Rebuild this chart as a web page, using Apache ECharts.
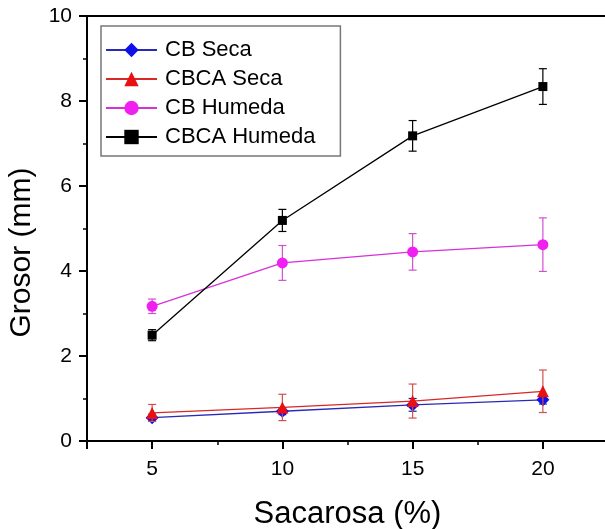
<!DOCTYPE html>
<html lang="es">
<head>
<meta charset="UTF-8">
<title>Grosor vs Sacarosa</title>
<script src="https://cdn.jsdelivr.net/npm/echarts@6/dist/echarts.min.js"></script>
<style>
    html, body { margin: 0; padding: 0; background: #fff; }
    #chart { width: 605px; height: 529px; }
</style>
</head>
<body>
<div id="chart"></div>
<script>
    // datos
    const sacarosa = [5, 10, 15, 20];
    const nombres = ['CB Seca', 'CBCA Seca', 'CB Humeda', 'CBCA Humeda'];

    const cbSeca = [0.55, 0.70, 0.85, 0.97];
    const cbSecaErr = [0.08, 0.08, 0.15, 0.10];
    const cbcaSeca = [0.66, 0.79, 0.94, 1.17];
    const cbcaSecaErr = [0.20, 0.31, 0.40, 0.50];
    const cbHumeda = [3.17, 4.19, 4.45, 4.62];
    const cbHumedaErr = [0.17, 0.41, 0.43, 0.63];
    const cbcaHumeda = [2.49, 5.19, 7.18, 8.34];
    const cbcaHumedaErr = [0.13, 0.26, 0.36, 0.42];

    const valores = [cbSeca, cbcaSeca, cbHumeda, cbcaHumeda];
    const errores = [cbSecaErr, cbcaSecaErr, cbHumedaErr, cbcaHumedaErr];
    const colores = ['#1010e8', '#e81010', '#f020f0', '#000000'];
    const coloresLinea = ['#2a2ab8', '#d82828', '#d830d8', '#000000'];
    const coloresError = ['#222288', '#d05050', '#d050d0', '#000000'];
    const simbolos = ['diamond', 'triangle', 'circle', 'rect'];
    const tamanos = [13, 12, 11, 9];

    let grafico = echarts.init(document.getElementById('chart'));
    let series = [];

    function barraError(color) {
        return function (params, api) {
            let x = api.value(0);
            let bajo = api.coord([x, api.value(1)]);
            let alto = api.coord([x, api.value(2)]);
            let m = 4;
            let estilo = {stroke: color, lineWidth: 1.2};
            return {
                type: 'group',
                children: [
                    {type: 'line', shape: {x1: bajo[0], y1: bajo[1], x2: alto[0], y2: alto[1]}, style: estilo},
                    {type: 'line', shape: {x1: alto[0] - m, y1: alto[1], x2: alto[0] + m, y2: alto[1]}, style: estilo},
                    {type: 'line', shape: {x1: bajo[0] - m, y1: bajo[1], x2: bajo[0] + m, y2: bajo[1]}, style: estilo}
                ]
            };
        };
    }

    nombres.forEach((nombre, i) => {
        series.push({
            name: nombre + ' error',
            type: 'custom',
            renderItem: barraError(coloresError[i]),
            data: sacarosa.map((x, j) => [x, valores[i][j] - errores[i][j], valores[i][j] + errores[i][j]]),
            z: 1 + i * 2,
            silent: true
        });
        series.push({
            name: nombre,
            type: 'line',
            data: sacarosa.map((x, j) => [x, valores[i][j]]),
            symbol: simbolos[i],
            symbolSize: tamanos[i],
            itemStyle: {color: colores[i]},
            lineStyle: {color: coloresLinea[i], width: 1.3},
            z: 2 + i * 2
        });
    });

    let opcion = {
        animation: false,
        grid: {
            left: 87,
            right: -3,
            top: 16,
            bottom: 88,
            outerBoundsMode: 'none',
            containLabel: false,
            show: true,
            borderColor: '#000',
            borderWidth: 2
        },
        legend: {
            data: nombres,
            orient: 'vertical',
            left: 101,
            top: 26,
            itemWidth: 51,
            itemHeight: 18,
            itemGap: 7,
            padding: [13, 25, 8, 4],
            backgroundColor: '#fff',
            borderColor: '#777',
            borderWidth: 1.5,
            borderRadius: 0,
            textStyle: {
                fontFamily: 'Liberation Sans',
                fontSize: 22,
                color: '#000',
                padding: [0, 0, 0, 3]
            }
        },
        xAxis: {
            type: 'value',
            min: 2.5,
            max: 22.5,
            splitNumber: 4,
            name: 'Sacarosa (%)',
            nameLocation: 'middle',
            nameGap: 58,
            nameTextStyle: {fontFamily: 'Liberation Sans', fontSize: 31, color: '#000'},
            axisLine: {lineStyle: {color: '#000', width: 2}},
            axisTick: {inside: false, length: 8, lineStyle: {color: '#000', width: 2}},
            minorTick: {show: true, splitNumber: 2, length: 4, lineStyle: {color: '#000', width: 1.5}},
            axisLabel: {
                fontFamily: 'Liberation Sans',
                fontSize: 21,
                color: '#000',
                margin: 18,
                formatter: v => (v % 5 === 0 ? String(v) : '')
            },
            splitLine: {show: false}
        },
        yAxis: {
            type: 'value',
            min: 0,
            max: 10,
            interval: 2,
            name: 'Grosor (mm)',
            nameLocation: 'middle',
            nameRotate: 90,
            nameGap: 50,
            nameTextStyle: {fontFamily: 'Liberation Sans', fontSize: 30, color: '#000', padding: [0, 48, 0, 0]},
            axisLine: {show: true, lineStyle: {color: '#000', width: 2}},
            axisTick: {show: true, inside: false, length: 8, lineStyle: {color: '#000', width: 2}},
            minorTick: {show: true, splitNumber: 2, length: 4, lineStyle: {color: '#000', width: 1.5}},
            axisLabel: {fontFamily: 'Liberation Sans', fontSize: 21, color: '#000', margin: 15},
            splitLine: {show: false}
        },
        series
    };

    grafico.setOption(opcion);
</script>
</body>
</html>
